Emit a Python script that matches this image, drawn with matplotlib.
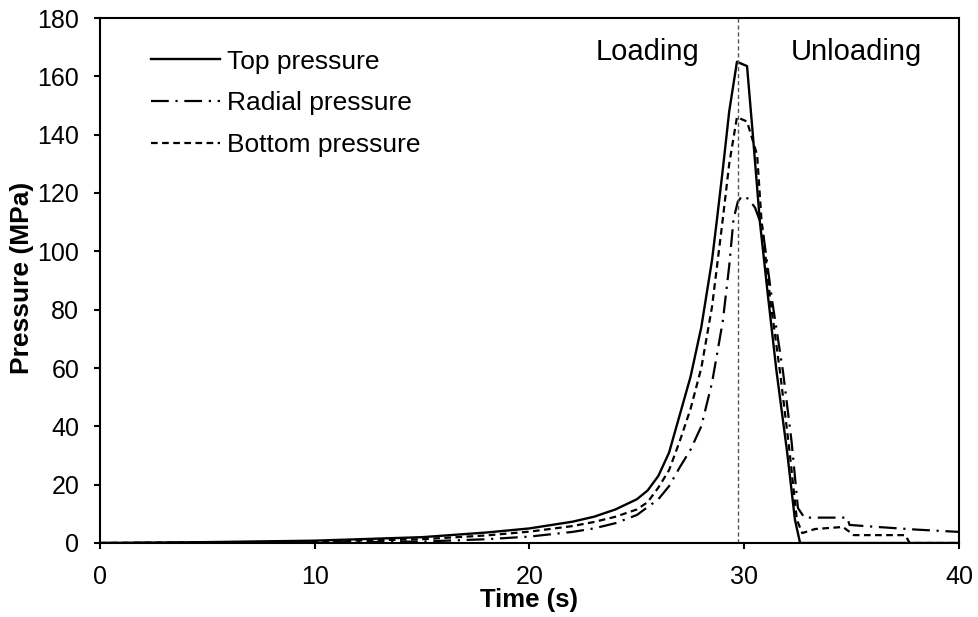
import numpy as np
import matplotlib.pyplot as plt

plt.rcParams['font.family'] = ['Liberation Sans', 'DejaVu Sans']

# time (s) and pressure (MPa)
t_top = [0, 5, 10, 15, 18, 20, 22, 23, 24, 25, 25.5, 26, 26.5, 27, 27.5, 28, 28.5, 28.73,
         29.0, 29.3, 29.66, 30.13, 30.4, 30.73, 31.1, 31.5, 32.0, 32.36, 32.6, 40]
p_top = [0, 0.3, 0.8, 2.0, 3.6, 5.0, 7.3, 9.0, 11.5, 15, 18, 23, 31, 44, 57, 74, 97, 111,
         128, 148, 165, 163.5, 140, 110, 85, 59, 31, 8, 0, 0]

t_rad = [0, 5, 10, 15, 18, 20, 22, 23, 24, 25, 26, 26.5, 27, 27.5, 28, 28.5, 29, 29.3, 29.5,
         29.7, 29.9, 30.2, 30.5, 30.85, 31.3, 31.8, 32.2, 32.5, 32.8, 34.8, 34.9, 36, 38, 40]
p_rad = [0, 0.1, 0.2, 0.5, 1.3, 2.2, 3.8, 5.0, 6.8, 9.6, 15, 19.5, 26, 32, 40, 55, 76, 95,
         111, 117, 119, 118, 115, 108, 83, 59, 35, 12, 8.7, 8.7, 6.2, 5.6, 4.6, 3.8]

t_bot = [0, 5, 10, 15, 18, 20, 22, 23, 24, 25, 25.5, 26, 26.5, 27, 27.5, 28, 28.5, 29, 29.3,
         29.66, 30.13, 30.6, 30.8, 31.2, 31.66, 32.1, 32.45, 32.7, 33.3, 34.6, 35.1, 37.5,
         37.7, 40]
p_bot = [0, 0.2, 0.5, 1.3, 2.6, 3.9, 5.8, 7.2, 9.0, 11.5, 14, 19, 25, 35, 46, 60, 81, 111,
         130, 146, 144.5, 133, 111, 84, 59, 32, 8, 3.4, 4.8, 5.5, 2.7, 2.7, 0, 0]

t_split = 29.7

fig = plt.figure(figsize=(9.79, 6.17), dpi=100)
ax = fig.add_axes([100/979, 74/617, 859/979, 525/617])

ax.plot(t_top, p_top, color='black', lw=1.7, label='Top pressure')
ax.plot(t_rad, p_rad, color='black', lw=1.6, dashes=(8, 3, 1, 3), label='Radial pressure')
ax.plot(t_bot, p_bot, color='black', lw=1.6, dashes=(3, 2), label='Bottom pressure')
ax.axvline(t_split, color='#555555', lw=1, dashes=(3, 2))

ax.set_xlim(0, 40)
ax.set_ylim(0, 180)
ax.set_xticks(np.arange(0, 41, 10))
ax.set_yticks(np.arange(0, 181, 20))
ax.tick_params(labelsize=18, direction='out', length=4, width=1.5)
ax.tick_params(axis='x', pad=12)
ax.tick_params(axis='y', pad=11)
for s in ax.spines.values():
    s.set_linewidth(1.5)

ax.set_xlabel('Time (s)', fontsize=18.5, fontweight='bold', va='top')
ax.xaxis.set_label_coords(0.5, -0.086)
ax.set_ylabel('Pressure (MPa)', fontsize=19, fontweight='bold')
ax.yaxis.set_label_coords(-0.077, 0.505)

ax.text(25.5, 168.5, 'Loading', fontsize=21, ha='center', va='center')
ax.text(35.2, 168.5, 'Unloading', fontsize=21, ha='center', va='center')

ax.legend(loc='upper left', frameon=False, fontsize=19, handlelength=2.6,
          handletextpad=0.3, labelspacing=0.67, borderaxespad=0,
          bbox_to_anchor=(0.047, 0.96))

fig.savefig('out.png', dpi=100)
